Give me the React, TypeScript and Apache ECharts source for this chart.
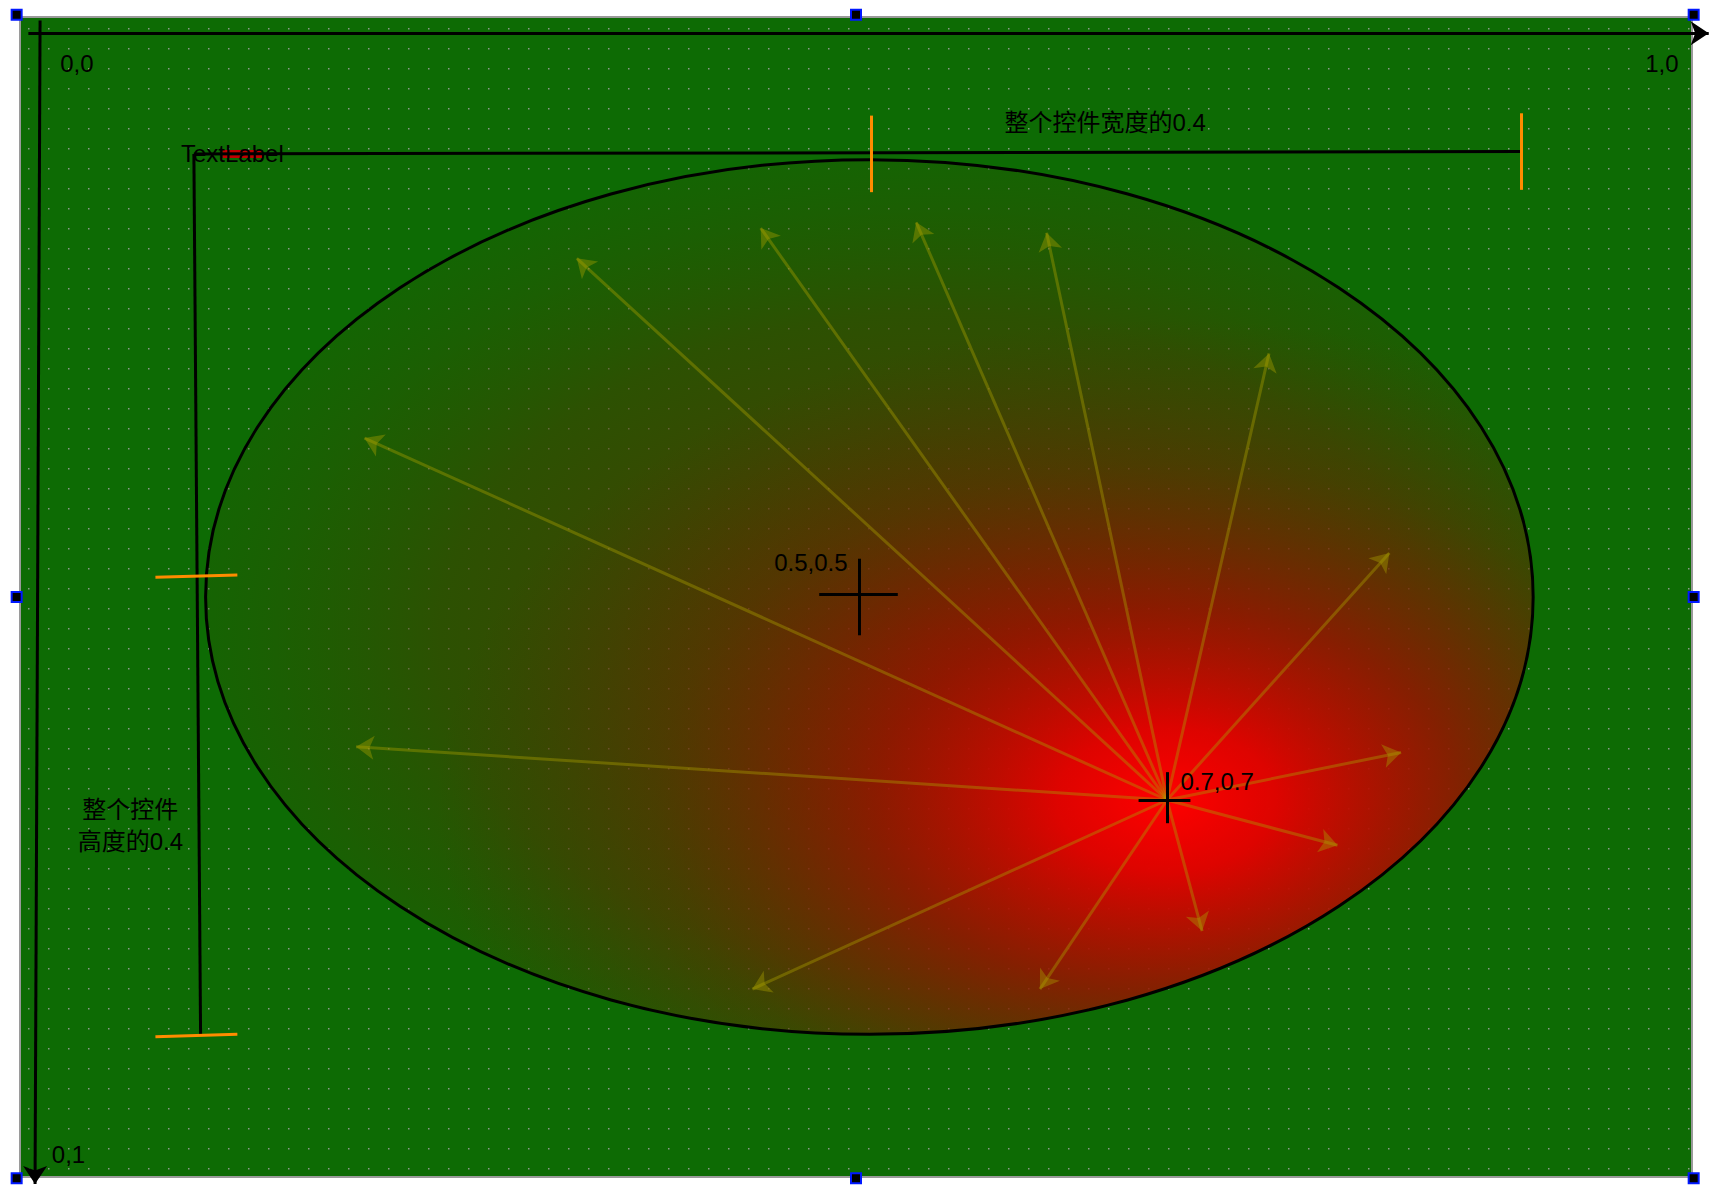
import React, { useEffect, useRef } from 'react'
import * as echarts from 'echarts'

// 坐标都用控件归一化坐标 (0..1)，y 向下
const focus = [0.686, 0.675]
const center = [0.508, 0.5]
const ellipseR = [0.397, 0.377]

// 从焦点发出的射线终点
const rayEnds: number[][] = [
  [0.206, 0.363], [0.201, 0.629], [0.333, 0.208], [0.443, 0.182],
  [0.536, 0.177], [0.614, 0.186], [0.747, 0.29], [0.819, 0.462],
  [0.826, 0.634], [0.788, 0.714], [0.707, 0.788], [0.61, 0.838], [0.438, 0.838],
]

// 黑色标注线
const blackLines: number[][][] = [
  [[0.104, 0.118], [0.898, 0.116]],
  [[0.104, 0.118], [0.108, 0.877]],
  [[0.478, 0.498], [0.525, 0.498]],
  [[0.502, 0.467], [0.502, 0.533]],
  [[0.669, 0.675], [0.7, 0.675]],
  [[0.686, 0.651], [0.686, 0.695]],
]
// 坐标轴箭头
const axisLines: number[][][] = [
  [[0.005, 0.014], [1.01, 0.014]],
  [[0.012, 0.003], [0.009, 1.006]],
]
// 橙色刻度
const orangeLines: number[][][] = [
  [[0.509, 0.085], [0.509, 0.151]],
  [[0.898, 0.083], [0.898, 0.149]],
  [[0.081, 0.483], [0.13, 0.481]],
  [[0.081, 0.879], [0.13, 0.877]],
]
// 文字标签
const labels: { text: string; pos: number[]; align: string }[] = [
  { text: '0,0', pos: [0.034, 0.04], align: 'center' },
  { text: '1,0', pos: [0.982, 0.04], align: 'center' },
  { text: '0,1', pos: [0.029, 0.981], align: 'center' },
  { text: '整个控件宽度的0.4', pos: [0.649, 0.091], align: 'center' },
  { text: 'TextLabel', pos: [0.127, 0.118], align: 'center' },
  { text: '0.5,0.5', pos: [0.473, 0.47], align: 'center' },
  { text: '0.7,0.7', pos: [0.716, 0.659], align: 'center' },
  { text: '整个控件', pos: [0.066, 0.683], align: 'center' },
  { text: '高度的0.4', pos: [0.066, 0.711], align: 'center' },
]
// 选择框手柄
const handles: number[][] = [
  [-0.002, -0.002], [0.5, -0.002], [1.001, -0.002],
  [-0.002, 0.5], [1.001, 0.5],
  [-0.002, 1.001], [0.5, 1.001], [1.001, 1.001],
]

const GRID = { left: 12, top: 9, width: 1672, height: 1160 }

function dotPattern(): string {
  const c = document.createElement('canvas')
  c.width = 20
  c.height = 20
  const ctx = c.getContext('2d')!
  ctx.fillStyle = '#0d6b04'
  ctx.fillRect(0, 0, 20, 20)
  ctx.fillStyle = '#8a9a88'
  ctx.fillRect(0, 0, 1.5, 1.5)
  return c.toDataURL()
}

export default function App() {
  const ref = useRef<HTMLDivElement>(null)

  useEffect(() => {
    if (!ref.current) return
    const chart = echarts.init(ref.current, undefined, { renderer: 'svg' })

    const lineSeries = (data: number[][][], color: string, width: number, arrow: boolean, z: number) => ({
      type: 'lines',
      coordinateSystem: 'cartesian2d',
      clip: false,
      z,
      symbol: arrow ? ['none', 'arrow'] : 'none',
      symbolSize: arrow ? 18 : 0,
      lineStyle: { color, width, opacity: 1, curveness: 0 },
      data: data.map(d => ({ coords: d })),
    })

    chart.setOption({
      animation: false,
      grid: { ...GRID },
      xAxis: { type: 'value', min: 0, max: 1, show: false },
      yAxis: { type: 'value', min: 0, max: 1, inverse: true, show: false },
      series: [
        lineSeries(rayEnds.map(e => [focus, e]), 'rgba(170,160,0,0.4)', 3, true, 5),
        lineSeries(blackLines, '#000', 3, false, 6),
        lineSeries(axisLines, '#000', 3, true, 6),
        lineSeries(orangeLines, '#ff8c00', 3, false, 7),
      ],
    })

    const px = (p: number[]) => chart.convertToPixel({ gridIndex: 0 }, p) as number[]
    const tl = px([0, 0])
    const br = px([1, 1])
    const c = px(center)
    const r0 = px([center[0] + ellipseR[0], center[1] + ellipseR[1]])
    const rx = r0[0] - c[0]
    const ry = r0[1] - c[1]
    const fx = (px(focus)[0] - (c[0] - rx)) / (2 * rx)
    const fy = (px(focus)[1] - (c[1] - ry)) / (2 * ry)
    const font = '"Liberation Sans", "Noto Sans CJK SC", sans-serif'

    const graphic: any[] = [
      {
        type: 'rect', z: 0, silent: true,
        shape: { x: tl[0], y: tl[1], width: br[0] - tl[0], height: br[1] - tl[1] },
        style: { fill: { image: dotPattern(), repeat: 'repeat' } as any, stroke: '#9a9a9a', lineWidth: 2 },
      },
      {
        type: 'ellipse', z: 1, silent: true,
        shape: { cx: c[0], cy: c[1], rx, ry },
        style: {
          fill: new echarts.graphic.RadialGradient(0.55, 0.55, 0.75, [
            { offset: 0, color: 'rgba(110,35,0,0.75)' },
            { offset: 0.5, color: 'rgba(70,60,0,0.55)' },
            { offset: 0.85, color: 'rgba(30,90,0,0.15)' },
            { offset: 1, color: 'rgba(13,107,4,0)' },
          ]),
        },
      },
      {
        type: 'ellipse', z: 2, silent: true,
        shape: { cx: c[0], cy: c[1], rx, ry },
        style: {
          fill: new echarts.graphic.RadialGradient(fx, fy, 0.55, [
            { offset: 0, color: 'rgba(255,0,0,1)' },
            { offset: 0.15, color: 'rgba(230,0,0,0.95)' },
            { offset: 0.4, color: 'rgba(170,10,0,0.7)' },
            { offset: 0.7, color: 'rgba(120,30,0,0.3)' },
            { offset: 1, color: 'rgba(90,40,0,0)' },
          ]),
          stroke: '#000', lineWidth: 3,
        },
      },
    ]
    const tlab = px([0.127, 0.118])
    graphic.push({
      type: 'rect', z: 3, silent: true,
      shape: { x: tlab[0] - 10, y: tlab[1] - 4, width: 40, height: 8 },
      style: { fill: '#c00000' },
    })
    labels.forEach(l => {
      const p = px(l.pos)
      graphic.push({
        type: 'text', z: 10, silent: true, x: p[0], y: p[1],
        style: {
          text: l.text, fill: '#000', fontSize: 24, fontFamily: font,
          align: l.align, verticalAlign: 'middle',
        },
      })
    })
    handles.forEach(h => {
      const p = px(h)
      graphic.push({
        type: 'rect', z: 11, silent: true,
        shape: { x: p[0] - 5, y: p[1] - 5, width: 10, height: 10 },
        style: { fill: '#000', stroke: '#0018ff', lineWidth: 2 },
      })
    })
    chart.setOption({ graphic })

    return () => chart.dispose()
  }, [])

  return <div ref={ref} style={{ width: 1702, height: 1190 }} />
}
